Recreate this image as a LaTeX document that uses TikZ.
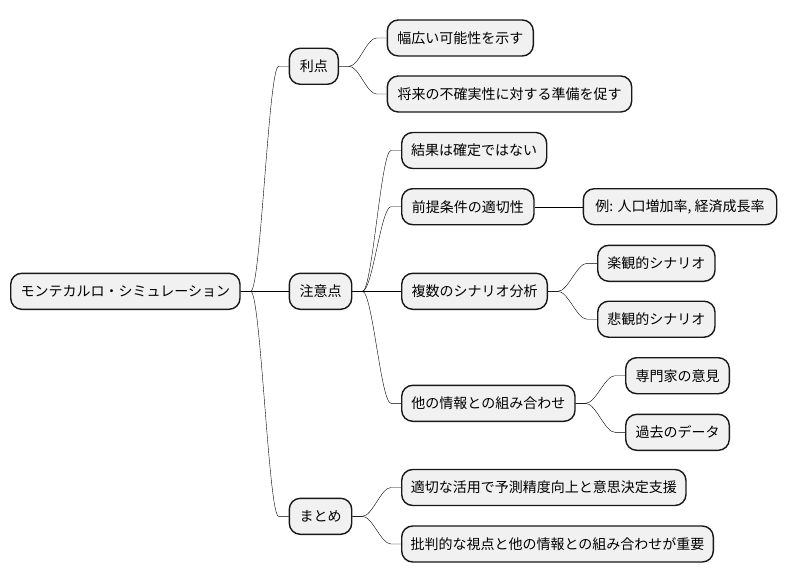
\documentclass[tikz,border=0pt]{standalone}
\usepackage{fontspec}
\setmainfont{Noto Sans CJK JP}
\definecolor{boxfill}{HTML}{F1F1F1}
\definecolor{boxline}{HTML}{181818}
\tikzset{
  mmbox/.style={draw=boxline, fill=boxfill, line width=1.4pt, rounded corners=11pt,
    minimum height=36pt, inner sep=0pt, align=center,
    font=\fontsize{14}{16}\selectfont},
  mmedge/.style={draw=boxline, line width=0.9pt,
    to path={-- ([xshift=10pt]\tikztostart) .. controls +(10,0) and +(-10,0) .. ([xshift=-10pt]\tikztotarget) -- (\tikztotarget)}}
}
\begin{document}
\begin{tikzpicture}[x=1pt,y=-1pt]
\useasboundingbox (0,0) rectangle (787,583);
\node[mmbox, minimum width=229.3pt] (root) at (125.35,291.3) {モンテカルロ・シミュレーション};
\node[mmbox, minimum width=49pt] (riten) at (313.8,66.3) {利点};
\node[mmbox, minimum width=62.4pt] (chui) at (320.5,291.3) {注意点};
\node[mmbox, minimum width=62.4pt] (matome) at (320.5,516.3) {まとめ};
\node[mmbox, minimum width=146pt] (habahiroi) at (460.3,38) {幅広い可能性を示す};
\node[mmbox, minimum width=244.4pt] (shorai) at (509.5,94) {将来の不確実性に対する準備を促す};
\node[mmbox, minimum width=145pt] (kekka) at (474.2,150.5) {結果は確定ではない};
\node[mmbox, minimum width=132.3pt] (zentei) at (467.85,206.7) {前提条件の適切性};
\node[mmbox, minimum width=193.4pt] (rei) at (680,206.7) {例: 人口増加率, 経済成長率};
\node[mmbox, minimum width=145.6pt] (fukusu) at (474.5,291.3) {複数のシナリオ分析};
\node[mmbox, minimum width=117.3pt] (rakkan) at (656.35,263.3) {楽観的シナリオ};
\node[mmbox, minimum width=117.3pt] (hikan) at (656.35,319.2) {悲観的シナリオ};
\node[mmbox, minimum width=173.3pt] (hoka) at (488.35,403.3) {他の情報との組み合わせ};
\node[mmbox, minimum width=103.6pt] (senmon) at (677.5,375.7) {専門家の意見};
\node[mmbox, minimum width=103.6pt] (kako) at (677.5,432.3) {過去のデータ};
\node[mmbox, minimum width=284.3pt] (tekisetsu) at (543.85,487.5) {適切な活用で予測精度向上と意思決定支援};
\node[mmbox, minimum width=311.6pt] (hihan) at (557.5,544) {批判的な視点と他の情報との組み合わせが重要};

\draw (root.east) to[mmedge] (riten.west);
\draw (root.east) to[mmedge] (chui.west);
\draw (root.east) to[mmedge] (matome.west);
\draw (riten.east) to[mmedge] (habahiroi.west);
\draw (riten.east) to[mmedge] (shorai.west);
\draw (chui.east) to[mmedge] (kekka.west);
\draw (chui.east) to[mmedge] (zentei.west);
\draw (chui.east) to[mmedge] (fukusu.west);
\draw (chui.east) to[mmedge] (hoka.west);
\draw (zentei.east) to[mmedge] (rei.west);
\draw (fukusu.east) to[mmedge] (rakkan.west);
\draw (fukusu.east) to[mmedge] (hikan.west);
\draw (hoka.east) to[mmedge] (senmon.west);
\draw (hoka.east) to[mmedge] (kako.west);
\draw (matome.east) to[mmedge] (tekisetsu.west);
\draw (matome.east) to[mmedge] (hihan.west);
\end{tikzpicture}
\end{document}
